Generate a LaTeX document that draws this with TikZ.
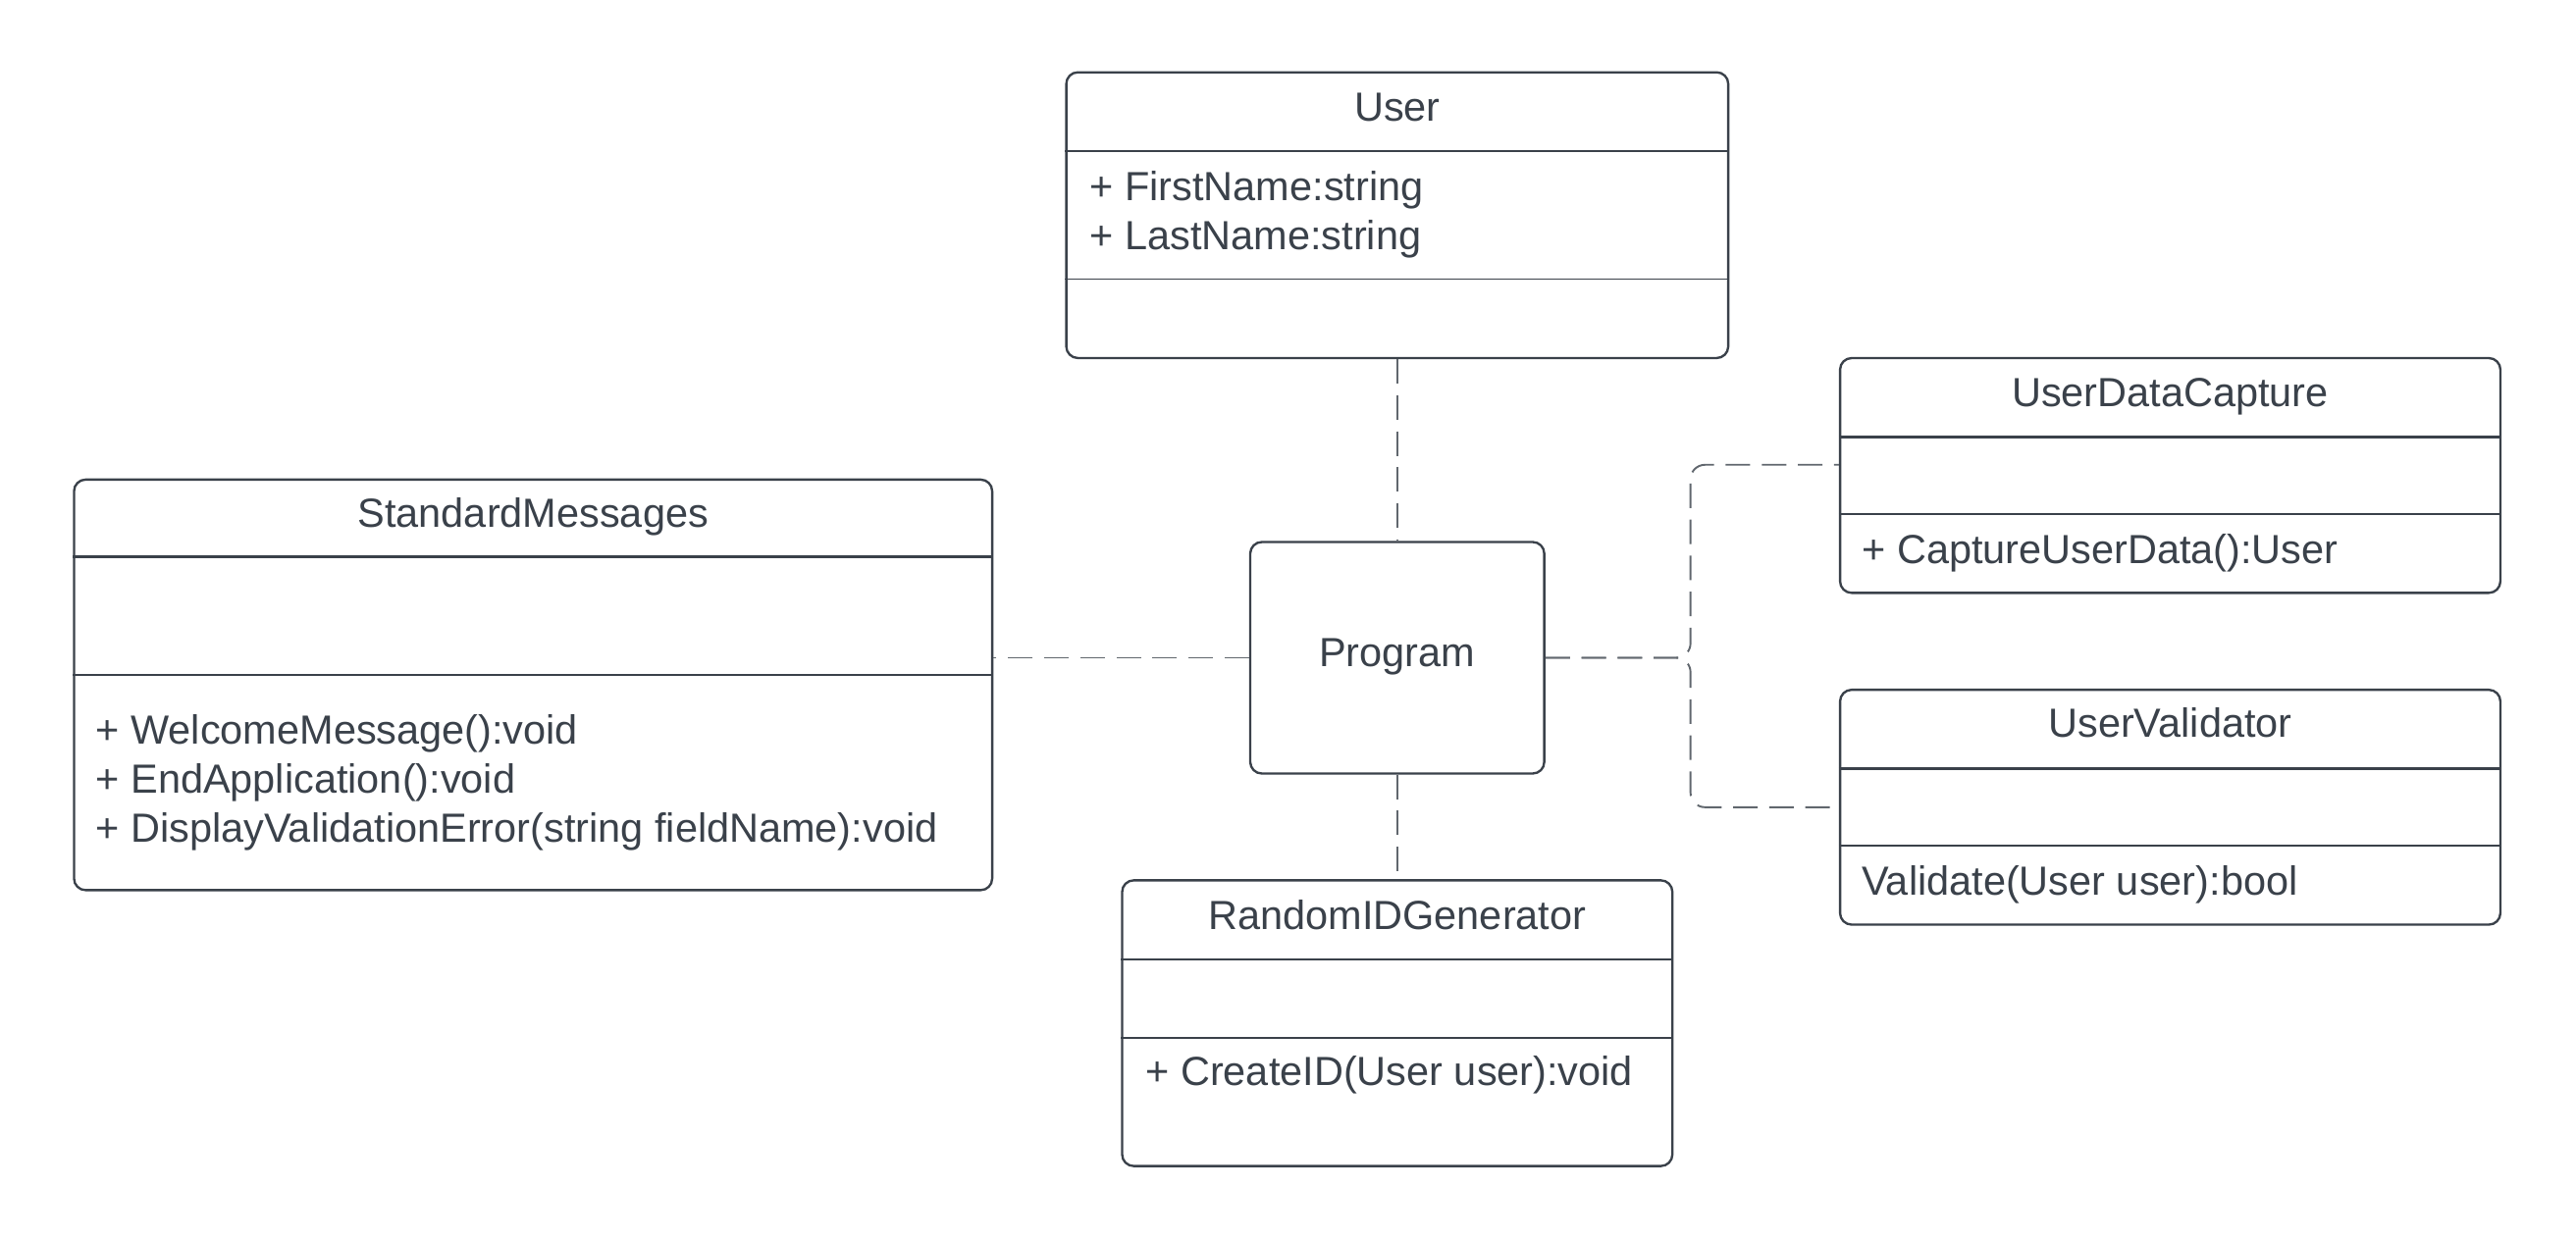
\documentclass[tikz,border=0pt]{standalone}
\usepackage{fontspec}
\setmainfont{Liberation Sans}
\usepackage{tikz}
\usetikzlibrary{positioning,calc}

\definecolor{ink}{HTML}{3A414A}

\begin{document}
\begin{tikzpicture}[
    x=0.02cm, y=-0.02cm,
    cls/.style={rectangle, draw=ink, line width=0.8pt, rounded corners=4pt, inner sep=0pt},
    sep/.style={draw=ink, line width=0.8pt},
    ttl/.style={inner sep=0pt, text=ink, text height=10.1pt, text depth=0pt, font=\fontsize{14.1}{17}\selectfont},
    row/.style={ttl, anchor=west},
    dep/.style={draw=ink!80, line width=0.65pt, dash pattern=on 8.5pt off 4pt}
]
\useasboundingbox (0,0) rectangle (1568,755);

% class boxes
\node[cls, minimum width=8.06cm, minimum height=3.48cm] (user) at (850.5,131) {};
\node[cls, minimum width=8.04cm, minimum height=2.86cm] (udc) at (1321,289.5) {};
\node[cls, minimum width=8.04cm, minimum height=2.86cm] (uv) at (1321,491.5) {};
\node[cls, minimum width=11.18cm, minimum height=5cm] (std) at (324.5,417) {};
\node[cls, minimum width=3.58cm, minimum height=2.82cm] (prog) at (850.5,400.5) {};
\node[cls, minimum width=6.7cm, minimum height=3.48cm] (rnd) at (850.5,623) {};

% compartments
\draw[sep] (user.west |- 0,92) -- (user.east |- 0,92);
\draw[sep, line width=0.6pt] (user.west |- 0,170) -- (user.east |- 0,170);
\draw[sep] (udc.west |- 0,266) -- (udc.east |- 0,266);
\draw[sep] (udc.west |- 0,313) -- (udc.east |- 0,313);
\draw[sep] (uv.west |- 0,468) -- (uv.east |- 0,468);
\draw[sep] (uv.west |- 0,515) -- (uv.east |- 0,515);
\draw[sep] (std.west |- 0,339) -- (std.east |- 0,339);
\draw[sep] (std.west |- 0,411) -- (std.east |- 0,411);
\draw[sep] (rnd.west |- 0,584) -- (rnd.east |- 0,584);
\draw[sep] (rnd.west |- 0,632) -- (rnd.east |- 0,632);

% names
\node[ttl] (userT) at (user |- 0,65) {User};
\node[ttl] (udcT) at (udc |- 0,239) {UserDataCapture};
\node[ttl] (uvT) at (uv |- 0,440) {UserValidator};
\node[ttl] (stdT) at (std |- 0,312) {StandardMessages};
\node[ttl] (progT) at (prog |- 0,397) {Program};
\node[ttl] (rndT) at (rnd |- 0,557) {RandomIDGenerator};

% members
\node[row] (userA) at (663,113) {+ FirstName:string};
\node[row] (userB) at (663,143) {+ LastName:string};
\node[row] (udcM) at (1133,334) {+ CaptureUserData():User};
\node[row] (uvM) at (1133,536) {Validate(User user):bool};
\node[row] (stdA) at (58,444) {+ WelcomeMessage():void};
\node[row] (stdB) at (58,474) {+ EndApplication():void};
\node[row] (stdC) at (58,504) {+ DisplayValidationError(string fieldName):void};
\node[row] (rndM) at (697,652) {+ CreateID(User user):void};

% dependencies
\coordinate (jn) at (1029,400.5);
\draw[dep] (user.south) -- (prog.north);
\draw[dep] (prog.south) -- (rnd.north);
\draw[dep] (prog.west) -- (prog.west -| std.east);
\draw[dep, rounded corners=5pt] (prog.east) -- (jn) |- ([yshift=0.13cm]udc.west);
\draw[dep, rounded corners=5pt] (prog.east) -- (jn) |- (uv.west);

\end{tikzpicture}
\end{document}
